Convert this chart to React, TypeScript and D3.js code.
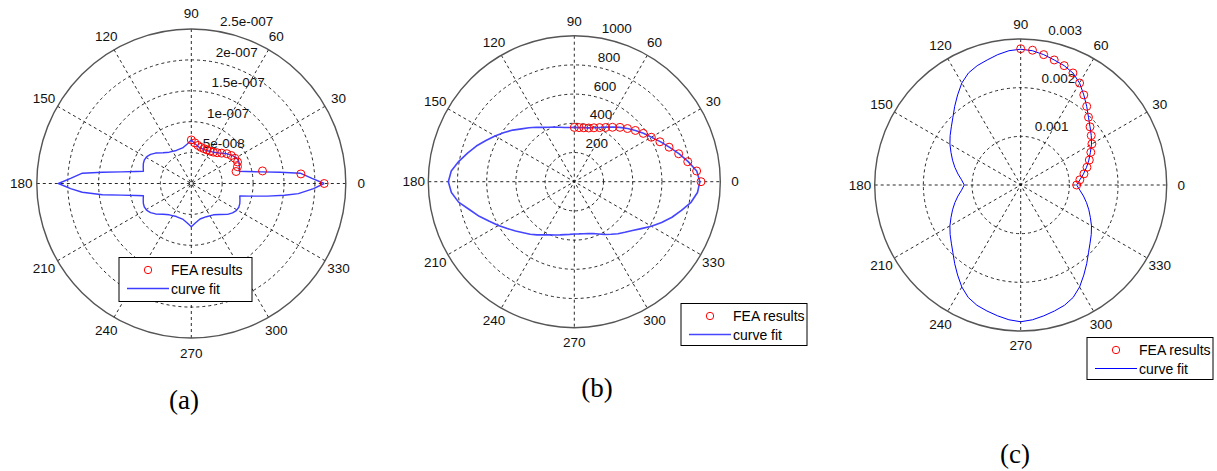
import React from "react";
import * as d3 from "d3";

// ---------- data ----------
const angleTickValues = [0, 30, 60, 90, 120, 150, 180, 210, 240, 270, 300, 330];
const feaAngles = [0, 5, 10, 15, 20, 25, 30, 35, 40, 45, 50, 55, 60, 65, 70, 75, 80, 85, 90];

// panel (a)
const ringsA = [5e-8, 1e-7, 1.5e-7, 2e-7, 2.5e-7];
const ringLabelsA = ["5e-008", "1e-007", "1.5e-007", "2e-007", "2.5e-007"];
const feaA = [21.5e-8, 17.8e-8, 11.7e-8, 7.5e-8, 7.95e-8, 8.25e-8, 8.15e-8, 7.9e-8, 7.5e-8, 6.95e-8, 6.5e-8, 6.2e-8, 6.05e-8, 6.0e-8, 6.0e-8, 6.05e-8, 6.25e-8, 6.6e-8, 7.05e-8];
const curveA: [number, number][] = [
  [0, 21.5e-8], [2.4, 19.55e-8], [5.4, 17.7e-8], [7.2, 14.5e-8], [9.4, 11.5e-8], [12.3, 9.1e-8], [14.3, 8.0e-8],
  [18.4, 8.2e-8], [22.6, 8.4e-8], [26.6, 8.5e-8], [31.1, 8.3e-8], [35.5, 7.95e-8], [40.4, 7.45e-8], [47.4, 6.7e-8],
  [54.8, 6.2e-8], [65.6, 5.87e-8], [76.2, 5.92e-8], [84.2, 6.42e-8], [90, 7.04e-8],
  [95.8, 6.42e-8], [103.8, 5.92e-8], [114.4, 5.87e-8], [125.2, 6.2e-8], [132.6, 6.75e-8], [139.6, 7.6e-8],
  [144.5, 8.1e-8], [148.9, 8.4e-8], [153.4, 8.5e-8], [157.4, 8.4e-8], [161.6, 8.2e-8], [165.7, 8.0e-8],
  [167.7, 9.1e-8], [170.6, 11.5e-8], [172.8, 14.5e-8], [174.6, 17.7e-8], [177.6, 19.55e-8], [180, 21.5e-8],
  [182.4, 19.55e-8], [184.6, 17.7e-8], [187.2, 14.5e-8], [189.4, 11.5e-8], [192.3, 9.1e-8], [194.3, 8.0e-8],
  [198.4, 8.2e-8], [202.6, 8.4e-8], [206.6, 8.5e-8], [211.1, 8.4e-8], [215.5, 8.1e-8], [220.4, 7.6e-8],
  [227.4, 6.75e-8], [234.8, 6.2e-8], [245.6, 5.87e-8], [256.2, 5.92e-8], [264.2, 6.42e-8], [270, 7.0e-8],
  [275.8, 6.42e-8], [283.8, 5.92e-8], [294.4, 5.9e-8], [305.2, 6.2e-8], [312.6, 6.8e-8], [319.6, 7.7e-8],
  [324.5, 8.2e-8], [328.9, 8.5e-8], [333.4, 8.6e-8], [337.4, 8.5e-8], [341.6, 8.3e-8], [345.7, 8.1e-8],
  [347.7, 9.6e-8], [350.6, 12.5e-8], [352.8, 15.2e-8], [354.6, 17.4e-8], [357.6, 19.8e-8], [360, 21.5e-8],
];

// panel (b)
const ringsB = [200, 400, 600, 800, 1000];
const ringLabelsB = ["200", "400", "600", "800", "1000"];
const feaB = [868, 841, 789, 740, 691, 647, 609, 577, 546, 515, 486, 455, 429, 409, 393, 381, 375, 372, 372];
const curveB = [
  860, 842, 792, 742, 692, 650, 610, 578, 546, 515, 486, 457, 432, 410, 393, 382, 376, 372, 372,
  373, 377, 386, 398, 412, 430, 455, 483, 512, 550, 587, 627, 668, 714, 757, 803, 846, 863,
  845, 805, 742, 693, 642, 600, 560, 525, 494, 470, 445, 420, 402, 388, 377, 368, 362, 358,
  359, 362, 368, 378, 395, 417, 440, 465, 490, 520, 560, 610, 660, 712, 760, 812, 847, 860,
];

// panel (c)
const ringsC = [0.001, 0.002, 0.003];
const ringLabelsC = ["0.001", "0.002", "0.003"];
const feaC = [1.15e-3, 1.22e-3, 1.32e-3, 1.41e-3, 1.5e-3, 1.59e-3, 1.69e-3, 1.77e-3, 1.86e-3, 1.97e-3, 2.11e-3, 2.26e-3, 2.42e-3, 2.54e-3, 2.61e-3, 2.66e-3, 2.72e-3, 2.78e-3, 2.8e-3];
const curveC = [
  1.15e-3, 1.22e-3, 1.31e-3, 1.4e-3, 1.49e-3, 1.58e-3, 1.68e-3, 1.77e-3, 1.86e-3, 1.97e-3, 2.11e-3, 2.26e-3, 2.42e-3, 2.54e-3, 2.61e-3, 2.66e-3, 2.72e-3, 2.77e-3, 2.79e-3,
  2.77e-3, 2.72e-3, 2.66e-3, 2.61e-3, 2.54e-3, 2.42e-3, 2.26e-3, 2.11e-3, 1.97e-3, 1.86e-3, 1.77e-3, 1.68e-3, 1.58e-3, 1.49e-3, 1.4e-3, 1.31e-3, 1.22e-3, 1.16e-3,
  1.22e-3, 1.31e-3, 1.4e-3, 1.49e-3, 1.58e-3, 1.68e-3, 1.77e-3, 1.86e-3, 1.97e-3, 2.11e-3, 2.26e-3, 2.42e-3, 2.55e-3, 2.63e-3, 2.68e-3, 2.73e-3, 2.78e-3, 2.81e-3,
  2.78e-3, 2.73e-3, 2.68e-3, 2.63e-3, 2.55e-3, 2.42e-3, 2.26e-3, 2.11e-3, 1.97e-3, 1.86e-3, 1.77e-3, 1.68e-3, 1.58e-3, 1.49e-3, 1.4e-3, 1.31e-3, 1.22e-3, 1.15e-3,
];
const curveAnglesBC = d3.range(0, 361, 5);

const legendLabels = ["FEA results", "curve fit"];
const captions = ["(a)", "(b)", "(c)"];

// ---------- component ----------
const FONT = "'Liberation Sans', Arial, sans-serif";

type PanelProps = {
  cx: number; cy: number; R: number;
  rings: number[]; ringLabels: string[];
  curve: [number, number][];
  fea: number[];
  lineColor: string; lineWidth: number;
  legend: { x: number; y: number; w: number; h: number };
  caption: string; capX: number; capY: number;
};

function PolarPanel(p: PanelProps) {
  const rmax = p.rings[p.rings.length - 1];
  const rinc = p.rings[0];
  const r = d3.scaleLinear().domain([0, rmax]).range([0, p.R]);
  const px = (deg: number, v: number) => p.cx + r(v) * Math.cos((deg * Math.PI) / 180);
  const py = (deg: number, v: number) => p.cy - r(v) * Math.sin((deg * Math.PI) / 180);
  const line = d3
    .line<[number, number]>()
    .x((d) => px(d[0], d[1]))
    .y((d) => py(d[0], d[1]))
    .curve(d3.curveLinear);
  const grid = "#111";
  const dash = "3,3";
  const lg = p.legend;
  return (
    <g>
      {[30, 60, 90, 120, 150, 180].map((a) => (
        <line key={"s" + a} x1={px(a, rmax)} y1={py(a, rmax)} x2={px(a + 180, rmax)} y2={py(a + 180, rmax)}
          stroke={grid} strokeWidth={0.9} strokeDasharray={dash} />
      ))}
      {p.rings.slice(0, -1).map((v) => (
        <circle key={"r" + v} cx={p.cx} cy={p.cy} r={r(v)} fill="none" stroke={grid} strokeWidth={0.9} strokeDasharray={dash} />
      ))}
      <circle cx={p.cx} cy={p.cy} r={p.R} fill="none" stroke="#555" strokeWidth={1.4} />
      {p.rings.map((v, i) => {
        const rr = v + rinc / 20;
        return (
          <text key={"rl" + v} x={px(82, rr) + 7} y={py(82, rr) - 3} fontFamily={FONT} fontSize={13.5} fill="#111">
            {p.ringLabels[i]}
          </text>
        );
      })}
      {angleTickValues.map((a) => (
        <text key={"al" + a} x={px(a, rmax * 1.1)} y={py(a, rmax * 1.1)} textAnchor="middle" dominantBaseline="central"
          fontFamily={FONT} fontSize={13.5} fill="#111">
          {a}
        </text>
      ))}
      <path d={line(p.curve) || ""} fill="none" stroke={p.lineColor} strokeWidth={p.lineWidth} strokeLinejoin="round" />
      {p.fea.map((v, i) => (
        <circle key={"f" + i} cx={px(feaAngles[i], v)} cy={py(feaAngles[i], v)} r={4} fill="none" stroke="#ff0000" strokeWidth={1} />
      ))}
      <rect x={lg.x} y={lg.y} width={lg.w} height={lg.h} fill="#fff" stroke="#000" strokeWidth={1} />
      <circle cx={lg.x + 29} cy={lg.y + 12.5} r={3.7} fill="none" stroke="#ff0000" strokeWidth={1} />
      <line x1={lg.x + 8} x2={lg.x + 50} y1={lg.y + 31} y2={lg.y + 31} stroke={p.lineColor} strokeWidth={p.lineWidth} />
      <text x={lg.x + 52} y={lg.y + 17.5} fontFamily={FONT} fontSize={14} fill="#000">{legendLabels[0]}</text>
      <text x={lg.x + 52} y={lg.y + 36} fontFamily={FONT} fontSize={14} fill="#000">{legendLabels[1]}</text>
      <text x={p.capX} y={p.capY} textAnchor="middle" fontFamily="'Liberation Serif', 'Times New Roman', serif" fontSize={27} fill="#000">
        {p.caption}
      </text>
    </g>
  );
}

export default function App() {
  const curveBpairs: [number, number][] = curveAnglesBC.map((a, i) => [a, curveB[i]]);
  const curveCpairs: [number, number][] = curveAnglesBC.map((a, i) => [a, curveC[i]]);
  return (
    <svg width={1217} height={471} style={{ position: "absolute", left: 0, top: 0, background: "#fff" }}>
      <rect width={1217} height={471} fill="#fff" />
      <PolarPanel cx={191.3} cy={183.5} R={154.5} rings={ringsA} ringLabels={ringLabelsA} curve={curveA} fea={feaA}
        lineColor="#3c3cff" lineWidth={1.4} legend={{ x: 119, y: 257.5, w: 133, h: 44 }}
        caption={captions[0]} capX={184} capY={409} />
      <PolarPanel cx={574.3} cy={181.7} R={146} rings={ringsB} ringLabels={ringLabelsB} curve={curveBpairs} fea={feaB}
        lineColor="#4646ff" lineWidth={1.6} legend={{ x: 681, y: 303.5, w: 126, h: 42 }}
        caption={captions[1]} capX={597} capY={397} />
      <PolarPanel cx={1020.7} cy={185} R={146} rings={ringsC} ringLabels={ringLabelsC} curve={curveCpairs} fea={feaC}
        lineColor="#0000ff" lineWidth={1} legend={{ x: 1087, y: 337.5, w: 126, h: 42 }}
        caption={captions[2]} capX={1015} capY={463} />
    </svg>
  );
}
